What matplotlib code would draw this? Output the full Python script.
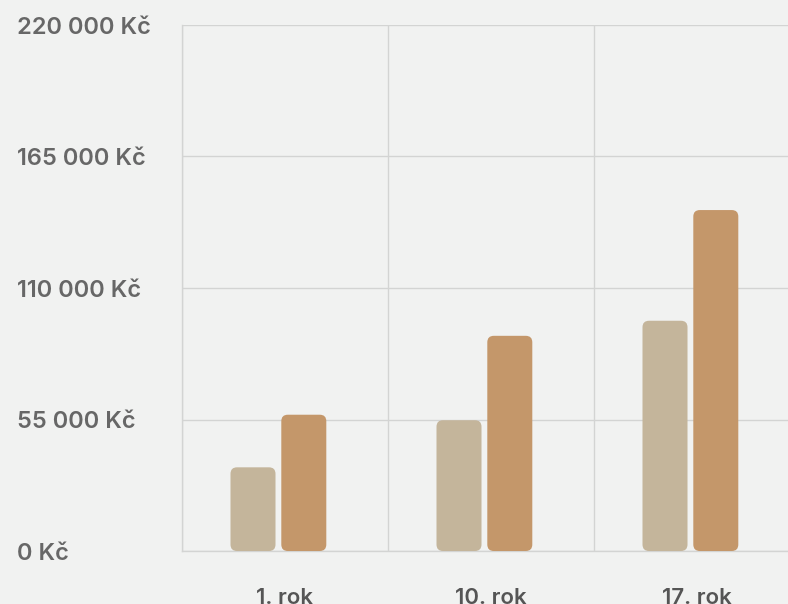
import matplotlib
matplotlib.use("Agg")
import matplotlib.pyplot as plt
from matplotlib.patches import FancyBboxPatch
import matplotlib.transforms as mtransforms

categories = ["1. rok", "10. rok", "17. rok"]
series_a = [35000, 54700, 96300]
series_b = [57000, 90000, 142600]
y_ticks = [0, 55000, 110000, 165000, 220000]
y_tick_labels = ["0 Kč", "55 000 Kč", "110 000 Kč", "165 000 Kč", "220 000 Kč"]

BG = "#f1f2f1"
COL_A = "#c4b59b"
COL_B = "#c4976a"
GRID = "#d3d4d3"
FONT = ["Inter", "DejaVu Sans"]

W, H = 788, 604
fig = plt.figure(figsize=(W / 100, H / 100), dpi=100, facecolor=BG)
left_px, right_px, top_px, bottom_px = 182, 788, 25, 551
cat_px = 206
ax = fig.add_axes([left_px / W, (H - bottom_px) / H,
                   (right_px - left_px) / W, (bottom_px - top_px) / H])
ax.set_facecolor(BG)

for s in ["top", "right"]:
    ax.spines[s].set_visible(False)
for s in ["left", "bottom"]:
    ax.spines[s].set_color(GRID)
    ax.spines[s].set_linewidth(1)

ax.set_yticks(y_ticks)
ax.set_xticks(range(len(categories)))
ax.tick_params(length=0, labelleft=False, labelbottom=False)
ax.grid(True, color=GRID, linewidth=1)
ax.set_axisbelow(True)
ax.set_xlim(0, (right_px - left_px) / cat_px)
ax.set_ylim(0, 220000)

# geometry
bw = 45 / cat_px
off_a = 48.5 / cat_px
off_b = 99.3 / cat_px
bbox = ax.get_window_extent()
x_per_px = (ax.get_xlim()[1] - ax.get_xlim()[0]) / bbox.width
y_per_px = (ax.get_ylim()[1] - ax.get_ylim()[0]) / bbox.height
aspect = y_per_px / x_per_px
r = 6.5 * x_per_px

for i, (a, b) in enumerate(zip(series_a, series_b)):
    for off, val, col in [(off_a, a, COL_A), (off_b, b, COL_B)]:
        p = FancyBboxPatch((i + off, 0), bw, val,
                           boxstyle=f"round,pad=0,rounding_size={r}",
                           mutation_aspect=aspect, facecolor=col,
                           edgecolor="none", zorder=3)
        ax.add_patch(p)

ax.set_xlim(0, (right_px - left_px) / cat_px)
ax.set_ylim(0, 220000)

trans_y = mtransforms.blended_transform_factory(fig.transFigure, ax.transData)
off_y = mtransforms.ScaledTranslation(0, -9 / 100, fig.dpi_scale_trans)
for v, lab in zip(y_ticks, y_tick_labels):
    fig.text(17 / W, v, lab, transform=trans_y + off_y, ha="left", va="baseline",
             fontsize=17, color="#676767", family=FONT, fontweight="semibold")

off_x = mtransforms.ScaledTranslation(0, -53 / 100, fig.dpi_scale_trans)
for i, lab in enumerate(categories):
    ax.text(i + 0.5, 0, lab, transform=ax.transData + off_x, ha="center",
            va="baseline", fontsize=16, color="#555555", family=FONT,
            fontweight="semibold", clip_on=False)

fig.savefig("out.png", dpi=100, facecolor=BG)
